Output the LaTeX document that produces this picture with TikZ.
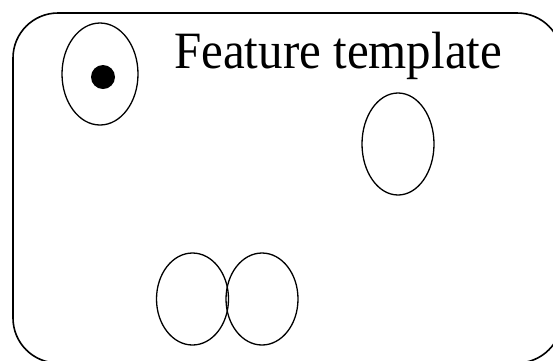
\documentclass[tikz,border=0pt]{standalone}
\usepackage{fontspec}
\setmainfont{Liberation Serif}
\begin{document}
\begin{tikzpicture}[x=1pt,y=-1pt,
  frame/.style={draw,line width=1.6pt,rounded corners=45pt},
  blob/.style={draw,line width=1.3pt}]
\useasboundingbox (0,0) rectangle (553,360);
\clip (0,0) rectangle (553,360);
\draw[frame] (13,13) rectangle (562,363);
\draw[blob] (100,74) ellipse [x radius=38, y radius=51];
\fill (103,77) circle [radius=12];
\draw[blob] (398,144) ellipse [x radius=36, y radius=51];
\draw[blob] (192.5,299) ellipse [x radius=36, y radius=46];
\draw[blob] (262,299) ellipse [x radius=36, y radius=46];
\node[anchor=base west,inner sep=0pt] (title) at (174,68)
  {\scalebox{1}[1.07]{\fontsize{49}{56}\selectfont Feature template}};
\end{tikzpicture}
\end{document}
